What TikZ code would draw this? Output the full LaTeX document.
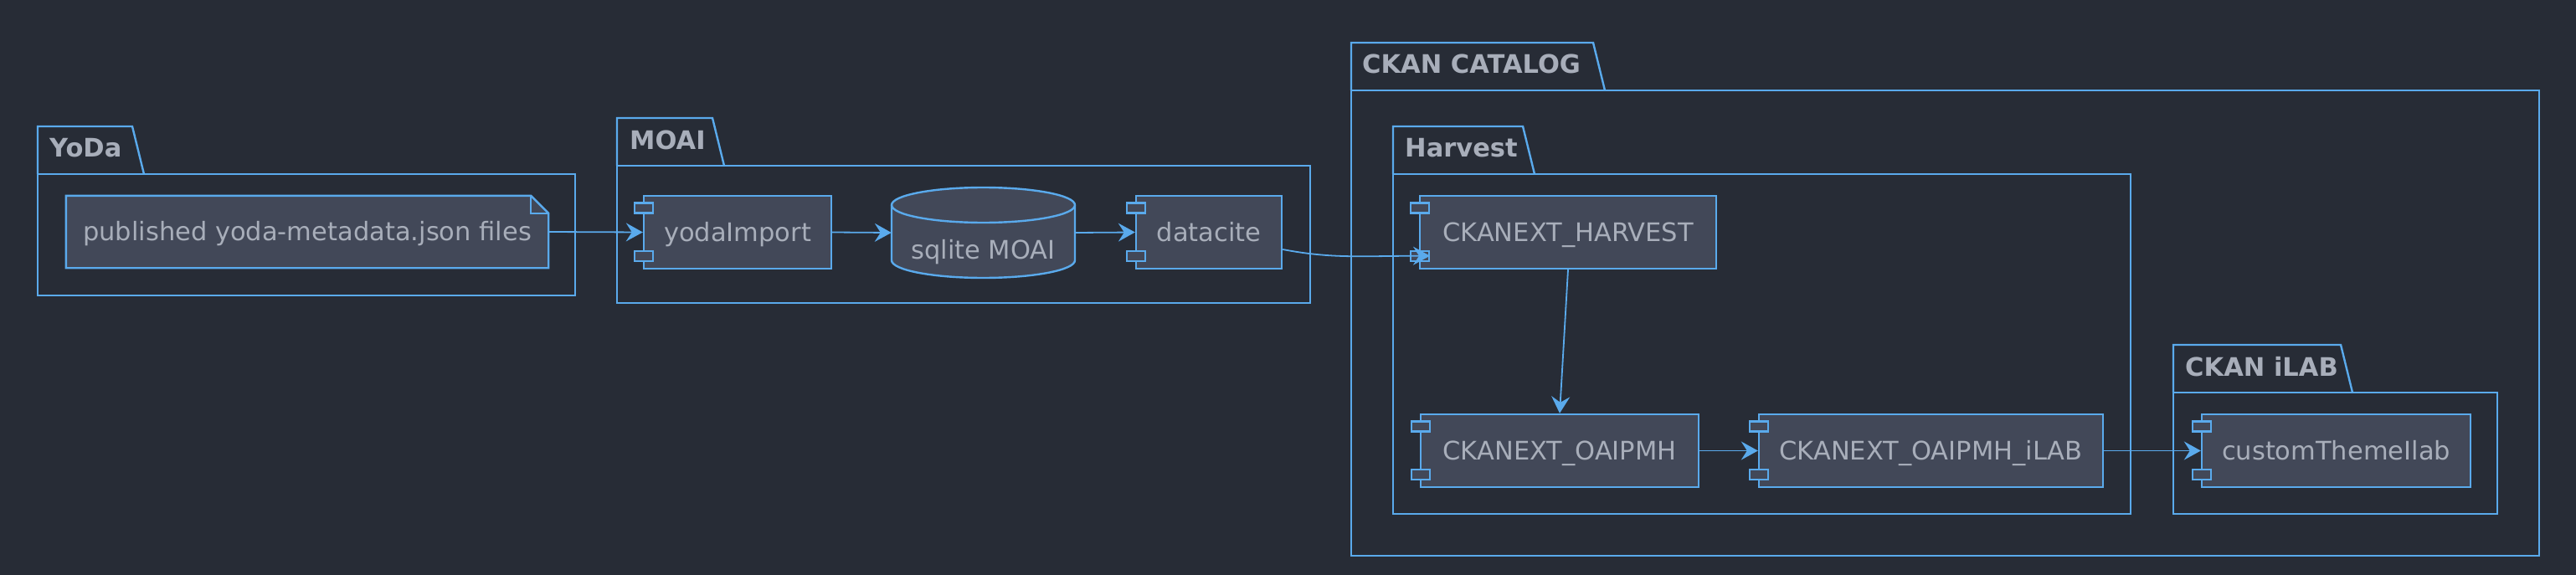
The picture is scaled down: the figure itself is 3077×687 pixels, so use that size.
\documentclass[tikz,border=0pt]{standalone}
\usepackage{fontspec}
\setmainfont{DejaVu Sans}
\usetikzlibrary{arrows.meta,calc}
\pgfdeclarelayer{background}
\pgfsetlayers{background,main}
\definecolor{bgc}{RGB}{39,44,54}
\definecolor{linec}{RGB}{90,170,236}
\definecolor{fillc}{RGB}{66,72,88}
\definecolor{textc}{RGB}{168,174,186}
\begin{document}
\begin{tikzpicture}[x=1pt,y=-1pt,
  txt/.style={text=textc, font=\fontsize{30.5}{36}\selectfont, text height=22.5pt, text depth=1.5pt},
  comp/.style={txt, draw=linec, line width=2.4pt, fill=fillc, minimum height=87pt, inner sep=0pt},
  port/.style={draw=linec, line width=2.4pt, fill=fillc, minimum width=22pt, minimum height=12pt, inner sep=0pt},
  pkg/.style={draw=linec, line width=2.4pt},
  pkglabel/.style={txt, anchor=west, inner sep=0pt, font=\fontsize{30.5}{36}\selectfont\bfseries},
  arr/.style={draw=linec, line width=1.8pt, -{Stealth[length=20pt,width=22pt,inset=7pt]}}
]
\begin{pgfonlayer}{background}
\fill[bgc] (0,0) rectangle (3077,687);
\end{pgfonlayer}
\useasboundingbox (0,0) rectangle (3077,687);

% ---------- packages ----------
% YoDa
\draw[pkg] (45,208) -- (45,151) -- (158,151) -- (172,208);
\draw[pkg] (45,208) rectangle (687,353);
\node[pkglabel] (lyoda) at (59,177) {YoDa};
% MOAI
\draw[pkg] (737,198) -- (737,141) -- (851,141) -- (865,198);
\draw[pkg] (737,198) rectangle (1565,362);
\node[pkglabel] (lmoai) at (752,168) {MOAI};
% CKAN CATALOG
\draw[pkg] (1614,108) -- (1614,51) -- (1903,51) -- (1917,108);
\draw[pkg] (1614,108) rectangle (3033,664);
\node[pkglabel] (lckan) at (1627,77) {CKAN CATALOG};
% Harvest
\draw[pkg] (1664,208) -- (1664,151) -- (1819,151) -- (1833,208);
\draw[pkg] (1664,208) rectangle (2545,614);
\node[pkglabel] (lharv) at (1678,177) {Harvest};
% CKAN iLAB
\draw[pkg] (2596,469) -- (2596,412) -- (2796,412) -- (2810,469);
\draw[pkg] (2596,469) rectangle (2983,614);
\node[pkglabel] (lilab) at (2610,439) {CKAN iLAB};

% ---------- note ----------
\node[txt, minimum width=576pt, minimum height=86pt, inner sep=0pt] (note) at (367,277) {published yoda-metadata.json files};
\begin{pgfonlayer}{background}
\draw[pkg, fill=fillc] (note.north west) -- ($(note.north east)+(-21,0)$) -- ($(note.north east)+(0,21)$) -- (note.south east) -- (note.south west) -- cycle;
\draw[pkg] ($(note.north east)+(-21,0)$) -- ($(note.north east)+(-21,21)$) -- ($(note.north east)+(0,21)$);
\end{pgfonlayer}

% ---------- database ----------
\node[minimum width=219pt, minimum height=108pt, inner sep=0pt] (db) at (1174.5,278) {};
\draw[pkg, fill=fillc] (1065,245) -- (1065,311)
  .. controls (1065,322.6) and (1114,332) .. (1174.5,332)
  .. controls (1235,332) and (1284,322.6) .. (1284,311)
  -- (1284,245)
  .. controls (1284,233.4) and (1235,224) .. (1174.5,224)
  .. controls (1114,224) and (1065,233.4) .. (1065,245) -- cycle;
\draw[pkg] (1065,245) .. controls (1065,256.6) and (1114,266) .. (1174.5,266)
  .. controls (1235,266) and (1284,256.6) .. (1284,245);
\node[txt, inner sep=0pt] (dbl) at (1174.5,298.5) {sqlite MOAI};

% ---------- components ----------
\node[comp, minimum width=224pt] (yi) at (881,277.5) {yodaImport};
\node[comp, minimum width=174pt] (dc) at (1444,277.5) {datacite};
\node[comp, minimum width=354pt] (hv) at (1873,277.5) {CKANEXT\_HARVEST};
\node[comp, minimum width=332pt] (oa) at (1863,538.5) {CKANEXT\_OAIPMH};
\node[comp, minimum width=411pt] (il) at (2306.5,538.5) {CKANEXT\_OAIPMH\_iLAB};
\node[comp, minimum width=321pt] (th) at (2790.5,538.5) {customThemeIlab};
\foreach \n in {yi,dc,hv,oa,il,th}{
  \node[port] (\n-a) at ($(\n.north west)+(1,15.5)$) {};
  \node[port] (\n-b) at ($(\n.south west)+(1,-16.5)$) {};
}

% ---------- connectors ----------
\draw[arr] (note.east) -- (yi.west);
\draw[arr] (yi.east) -- (db.west);
\draw[arr] (db.east) -- (dc.west);
\draw[arr] ($(dc.east)+(0,20.5)$) .. controls ($(dc.east)+(60,32)$) and ($(hv-b.east)+(-80,0)$) .. (hv-b.east);
\draw[arr] (hv.south) -- (oa.north);
\draw[arr] (oa.east) -- (il.west);
\draw[arr] (il.east) -- (th.west);
\end{tikzpicture}
\end{document}
